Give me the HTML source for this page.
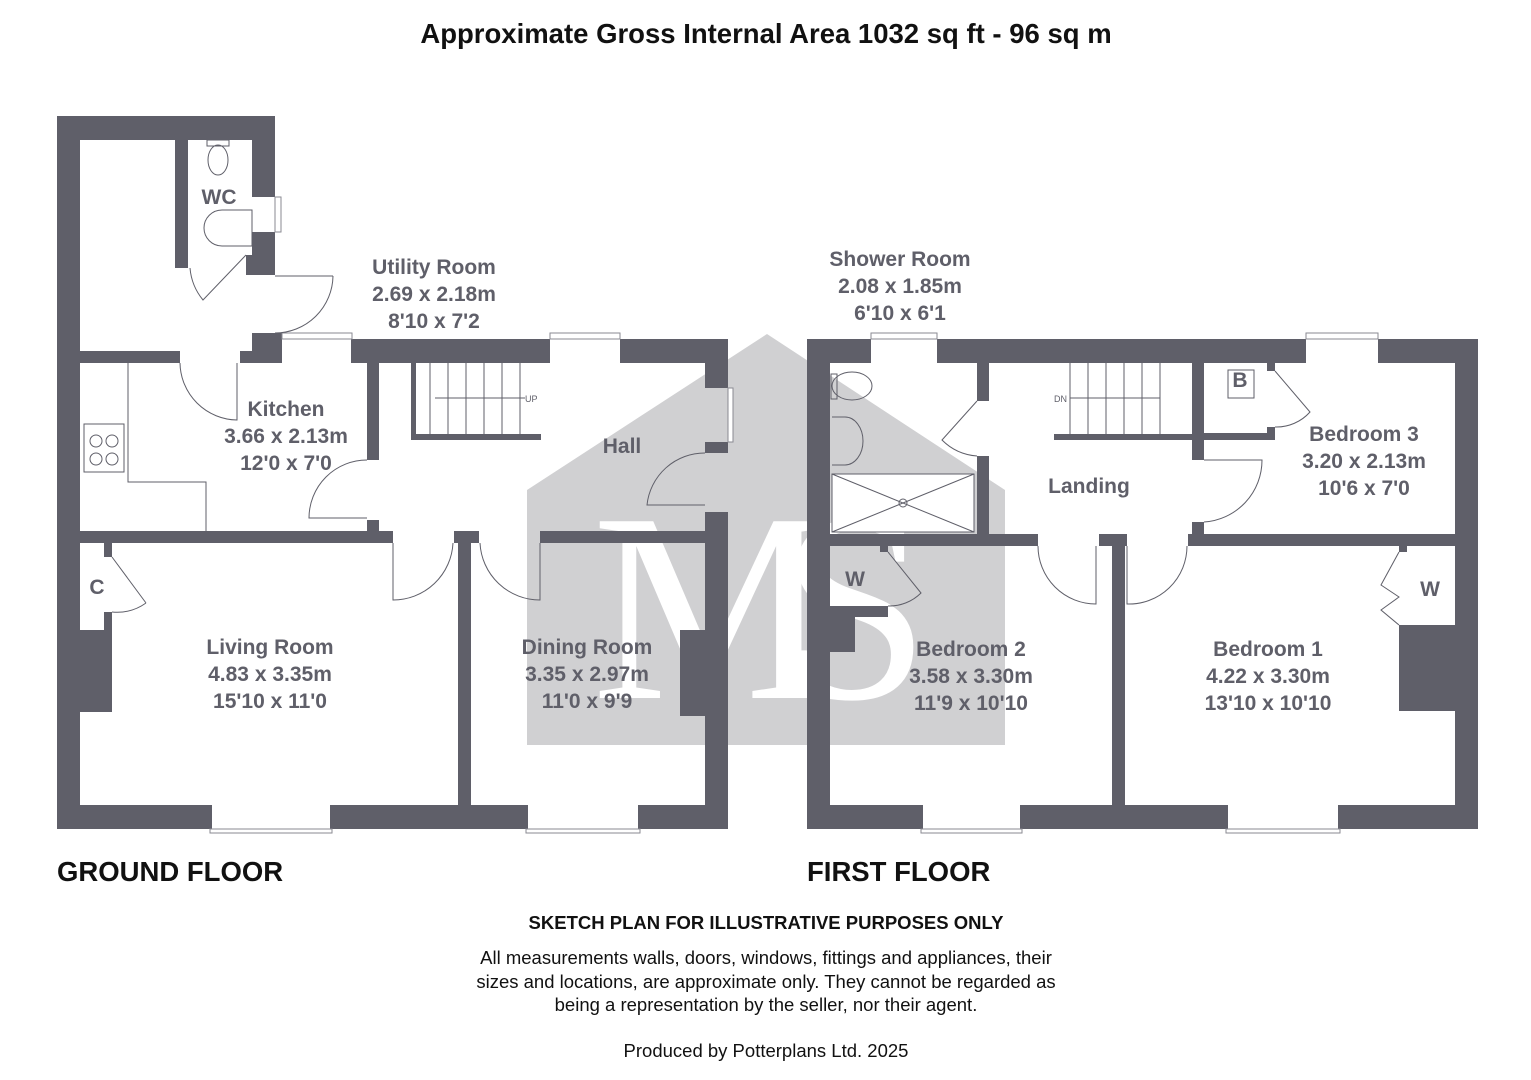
<!DOCTYPE html>
<html><head><meta charset="utf-8"><style>
html,body{margin:0;padding:0;background:#fff;}
svg{display:block;}
.w{fill:#5f5f69;}
.t{fill:#5f5f69;font-family:"Liberation Sans Narrow","Liberation Sans",sans-serif;font-weight:bold;font-size:21px;text-anchor:middle;}
.l{stroke:#5f5f69;stroke-width:1;fill:none;}
.win{fill:#fff;stroke:#8a8a92;stroke-width:1;}
</style></head><body>
<svg width="1531" height="1080" viewBox="0 0 1531 1080" xmlns="http://www.w3.org/2000/svg">
<defs><clipPath id="hc"><polygon points="527,490 767,334 1005,490 1005,745 527,745"/></clipPath></defs>
<rect width="1531" height="1080" fill="#fff"/>
<polygon points="527,490 767,334 1005,490 1005,745 527,745" fill="#d0d0d2"/>
<g clip-path="url(#hc)">
<text x="712" y="698" font-family="Liberation Serif,serif" font-size="270" fill="#fff" text-anchor="middle">M</text>
<text x="855" y="698" font-family="Liberation Serif,serif" font-size="270" fill="#fff" text-anchor="middle">S</text>
</g>

<text x="766" y="43" font-family="Liberation Sans,sans-serif" font-weight="bold" font-size="27.5" text-anchor="middle" fill="#111">Approximate Gross Internal Area 1032 sq ft - 96 sq m</text>

<g class="w">
<rect x="57" y="116" width="23" height="713"/>
<rect x="57" y="116" width="218" height="24"/>
<rect x="252" y="116" width="23" height="81"/>
<rect x="252" y="232" width="23" height="43"/>
<rect x="246" y="255" width="8" height="20"/>
<rect x="175" y="140" width="13" height="128"/>
<rect x="80" y="351" width="100" height="12"/>
<rect x="252" y="333" width="30" height="30"/>
<rect x="240" y="351" width="14" height="12"/>
<rect x="351" y="339" width="199" height="24"/>
<rect x="620" y="339" width="108" height="24"/>
<rect x="705" y="339" width="23" height="49"/>
<rect x="705" y="442" width="23" height="11"/>
<rect x="705" y="512" width="23" height="317"/>
<rect x="367" y="363" width="12" height="97"/>
<rect x="367" y="520" width="12" height="11"/>
<rect x="411" y="363" width="5" height="77"/>
<rect x="411" y="434" width="130" height="6"/>
<rect x="80" y="531" width="313" height="12"/>
<rect x="454" y="531" width="25" height="12"/>
<rect x="540" y="531" width="165" height="12"/>
<rect x="458" y="543" width="13" height="262"/>
<rect x="57" y="805" width="155" height="24"/>
<rect x="330" y="805" width="198" height="24"/>
<rect x="638" y="805" width="90" height="24"/>
<rect x="80" y="630" width="32" height="82"/>
<rect x="104" y="543" width="8" height="14"/>
<rect x="104" y="612" width="8" height="18"/>
<rect x="680" y="630" width="25" height="86"/>
</g>
<rect class="win" x="275" y="197" width="6" height="35"/>
<rect class="win" x="282" y="333" width="70" height="6"/>
<rect class="win" x="550" y="333" width="70" height="6"/>
<rect class="win" x="728" y="388" width="5" height="54"/>
<rect class="win" x="210" y="829" width="122" height="4"/>
<rect class="win" x="526" y="829" width="114" height="4"/>
<g class="l">
<path d="M275,276 L333,276 M333,276 A58,58 0 0 1 275,333"/>
<path d="M190,268 A58,58 0 0 0 203,300 L246,255"/>
<path d="M180,363 A58,58 0 0 0 237,420 L237,363"/>
<path d="M128,363 L128,482 L206,482 L206,531"/>
<rect x="84" y="424" width="40" height="48"/>
<circle cx="96" cy="441" r="6"/><circle cx="112" cy="441" r="6"/><circle cx="96" cy="459" r="6"/><circle cx="112" cy="459" r="6"/>
<path d="M430,363 V434 M448,363 V434 M466,363 V434 M484,363 V434 M502,363 V434 M520,363 V434 M435,398 H525"/>
<path d="M367,460 A58,58 0 0 0 309,518 L367,518"/>
<path d="M705,453 A58,58 0 0 0 647,505 L705,505"/>
<path d="M393,543 L393,600 A60,60 0 0 0 453,543"/>
<path d="M540,543 L540,600 A60,60 0 0 1 480,543"/>
<path d="M112,557 L146,603 M146,603 A50,50 0 0 1 112,612"/>
<ellipse cx="218" cy="160" rx="10" ry="15"/><rect x="207" y="140" width="22" height="6"/>
<path d="M222,210 A18,18 0 0 0 222,246 L252,246 L252,210 Z"/>
</g>
<g fill="#5f5f69" font-family="Liberation Sans,sans-serif" font-size="9"><text x="525" y="402">UP</text></g>
<text class="t" x="219" y="204">WC</text>
<text class="t" x="434" y="274">Utility Room</text>
<text class="t" x="434" y="301">2.69 x 2.18m</text>
<text class="t" x="434" y="328">8'10 x 7'2</text>
<text class="t" x="286" y="416">Kitchen</text>
<text class="t" x="286" y="443">3.66 x 2.13m</text>
<text class="t" x="286" y="470">12'0 x 7'0</text>
<text class="t" x="622" y="453">Hall</text>
<text class="t" x="97" y="594">C</text>
<text class="t" x="270" y="654">Living Room</text>
<text class="t" x="270" y="681">4.83 x 3.35m</text>
<text class="t" x="270" y="708">15'10 x 11'0</text>
<text class="t" x="587" y="654">Dining Room</text>
<text class="t" x="587" y="681">3.35 x 2.97m</text>
<text class="t" x="587" y="708">11'0 x 9'9</text>

<g class="w">
<rect x="807" y="339" width="23" height="490"/>
<rect x="807" y="339" width="64" height="24"/>
<rect x="937" y="339" width="369" height="24"/>
<rect x="1378" y="339" width="100" height="24"/>
<rect x="1455" y="339" width="23" height="490"/>
<rect x="807" y="805" width="116" height="24"/>
<rect x="1020" y="805" width="208" height="24"/>
<rect x="1338" y="805" width="140" height="24"/>
<rect x="977" y="363" width="12" height="38"/>
<rect x="977" y="456" width="12" height="78"/>
<rect x="830" y="534" width="208" height="12"/>
<rect x="1099" y="534" width="28" height="12"/>
<rect x="1112" y="546" width="13" height="259"/>
<rect x="1188" y="534" width="267" height="12"/>
<rect x="1192" y="363" width="12" height="97"/>
<rect x="1192" y="522" width="12" height="12"/>
<rect x="1204" y="433" width="71" height="7"/>
<rect x="1267" y="427" width="8" height="13"/>
<rect x="1267" y="363" width="8" height="8"/>
<rect x="1054" y="434" width="138" height="6"/>
<rect x="880" y="546" width="8" height="6"/>
<rect x="830" y="606" width="58" height="11"/>
<rect x="830" y="606" width="25" height="46"/>
<rect x="1399" y="546" width="8" height="6"/>
<rect x="1399" y="625" width="56" height="86"/>
</g>
<rect class="win" x="871" y="333" width="66" height="6"/>
<rect class="win" x="1306" y="333" width="72" height="6"/>
<rect class="win" x="921" y="829" width="101" height="4"/>
<rect class="win" x="1226" y="829" width="114" height="4"/>
<g class="l">
<path d="M977,401 L942,440 A55,55 0 0 0 977,456"/>
<path d="M1070,363 V434 M1088,363 V434 M1106,363 V434 M1124,363 V434 M1142,363 V434 M1160,363 V434 M1070,398 H1160"/>
<rect x="1228" y="370" width="26" height="28"/>
<path d="M1275,371 L1310,412 A45,45 0 0 1 1275,427"/>
<path d="M1204,460 L1262,460 A62,62 0 0 1 1204,522"/>
<path d="M1038,546 A58,58 0 0 0 1096,604 L1096,546"/>
<path d="M1127,546 L1127,604 A58,58 0 0 0 1187,546"/>
<path d="M888,552 L921,593 A45,45 0 0 1 888,606"/>
<path d="M1399,552 L1381,585 L1399,597 L1381,610 L1399,625"/>
<rect x="832" y="474" width="142" height="58" fill="#fff"/>
<path d="M832,474 L974,532 M974,474 L832,532"/>
<circle cx="903" cy="503" r="4"/>
<ellipse cx="852" cy="386" rx="20" ry="14"/><rect x="831" y="374" width="6" height="25"/>
<path d="M832,417 L845,417 A18,24 0 0 1 845,465 L832,465"/>
</g>
<g fill="#5f5f69" font-family="Liberation Sans,sans-serif" font-size="9"><text x="1054" y="402">DN</text></g>
<text class="t" x="900" y="266">Shower Room</text>
<text class="t" x="900" y="293">2.08 x 1.85m</text>
<text class="t" x="900" y="320">6'10 x 6'1</text>
<text class="t" x="1240" y="387">B</text>
<text class="t" x="1089" y="493">Landing</text>
<text class="t" x="1364" y="441">Bedroom 3</text>
<text class="t" x="1364" y="468">3.20 x 2.13m</text>
<text class="t" x="1364" y="495">10'6 x 7'0</text>
<text class="t" x="855" y="586">W</text>
<text class="t" x="1430" y="596">W</text>
<text class="t" x="971" y="656">Bedroom 2</text>
<text class="t" x="971" y="683">3.58 x 3.30m</text>
<text class="t" x="971" y="710">11'9 x 10'10</text>
<text class="t" x="1268" y="656">Bedroom 1</text>
<text class="t" x="1268" y="683">4.22 x 3.30m</text>
<text class="t" x="1268" y="710">13'10 x 10'10</text>

<g font-family="Liberation Sans,sans-serif" fill="#111">
<text x="57" y="881" font-weight="bold" font-size="27.5">GROUND FLOOR</text>
<text x="807" y="881" font-weight="bold" font-size="27.5">FIRST FLOOR</text>
<text x="766" y="929" font-weight="bold" font-size="18.5" text-anchor="middle">SKETCH PLAN FOR ILLUSTRATIVE PURPOSES ONLY</text>
<text x="766" y="964" font-size="18.5" text-anchor="middle">All measurements walls, doors, windows, fittings and appliances, their</text>
<text x="766" y="988" font-size="18.5" text-anchor="middle">sizes and locations, are approximate only. They cannot be regarded as</text>
<text x="766" y="1011" font-size="18.5" text-anchor="middle">being a representation by the seller, nor their agent.</text>
<text x="766" y="1057" font-size="18.5" text-anchor="middle">Produced by Potterplans Ltd. 2025</text>
</g>
</svg>
</body></html>
